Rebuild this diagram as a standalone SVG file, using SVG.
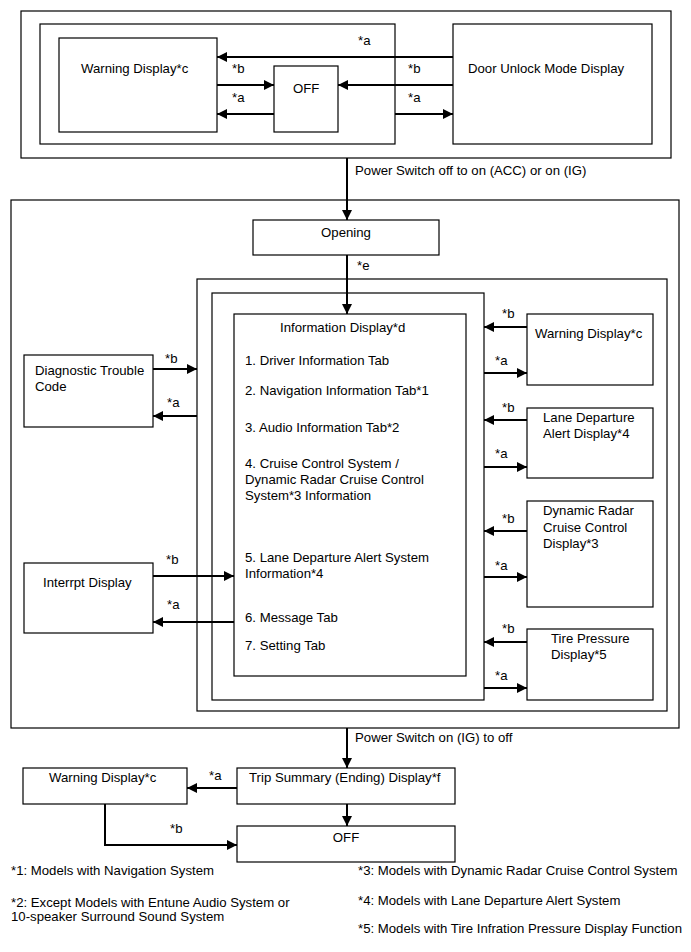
<svg xmlns="http://www.w3.org/2000/svg" width="691" height="952" viewBox="0 0 691 952">
<style>
.box{fill:#fff;stroke:#000;stroke-width:1.2}
.frame{fill:none;stroke:#000;stroke-width:1.2}
.t{font-family:"Liberation Sans",Arial,sans-serif;font-size:13.2px;fill:#000}
.m{text-anchor:middle}
.c{fill:none;stroke:#000;stroke-width:2}
.ca{fill:none;stroke:#000;stroke-width:2;marker-end:url(#ah)}
</style>
<defs>
<marker id="ah" markerWidth="10" markerHeight="10" refX="10" refY="5" orient="auto" markerUnits="userSpaceOnUse"><path d="M0,0 L10,5 L0,10 z" fill="#000"/></marker>
</defs>
<rect width="691" height="952" fill="#fff"/>

<!-- frames -->
<g id="frames">
<rect class="frame" x="21" y="11" width="650" height="147"/>
<rect class="frame" x="40" y="24" width="355" height="120"/>
<rect class="frame" x="11" y="200" width="668" height="528"/>
<rect class="frame" x="197" y="279" width="470" height="432"/>
<rect class="frame" x="212" y="293" width="272" height="407"/>
</g>

<!-- top section nodes -->
<g id="top-warning"><rect class="box" x="59" y="38" width="158" height="94"/><text class="t" x="81" y="73">Warning Display*c</text></g>
<g id="top-off"><rect class="box" x="274" y="66" width="64" height="66"/><text class="t" x="293" y="93">OFF</text></g>
<g id="door-unlock"><rect class="box" x="453" y="24" width="199" height="120"/><text class="t" x="468" y="73">Door Unlock Mode Display</text></g>

<!-- middle section nodes -->
<g id="opening"><rect class="box" x="253" y="220" width="186" height="35"/><text class="t m" x="346" y="237">Opening</text></g>
<g id="info-display"><rect class="box" x="234" y="314" width="232" height="362"/>
<text class="t" x="280" y="332">Information Display*d</text>
<text class="t" x="245" y="365">1. Driver Information Tab</text>
<text class="t" x="245" y="395">2. Navigation Information Tab*1</text>
<text class="t" x="245" y="432">3. Audio Information Tab*2</text>
<text class="t" x="245" y="468">4. Cruise Control System /</text>
<text class="t" x="245" y="484">Dynamic Radar Cruise Control</text>
<text class="t" x="245" y="500">System*3 Information</text>
<text class="t" x="245" y="562">5. Lane Departure Alert System</text>
<text class="t" x="245" y="578">Information*4</text>
<text class="t" x="245" y="622">6. Message Tab</text>
<text class="t" x="245" y="650">7. Setting Tab</text>
</g>
<g id="dtc"><rect class="box" x="24" y="355" width="129" height="72"/><text class="t" x="35" y="375">Diagnostic Trouble</text><text class="t" x="35" y="391">Code</text></g>
<g id="interrupt"><rect class="box" x="24" y="563" width="129" height="70"/><text class="t" x="43" y="587">Interrpt Display</text></g>
<g id="mid-warning"><rect class="box" x="527" y="314" width="126" height="71"/><text class="t" x="535" y="338">Warning Display*c</text></g>
<g id="lane-departure"><rect class="box" x="527" y="408" width="126" height="70"/><text class="t" x="543" y="422">Lane Departure</text><text class="t" x="543" y="438">Alert Display*4</text></g>
<g id="radar-cruise"><rect class="box" x="527" y="501" width="126" height="106"/><text class="t" x="543" y="515">Dynamic Radar</text><text class="t" x="543" y="532">Cruise Control</text><text class="t" x="543" y="548">Display*3</text></g>
<g id="tire-pressure"><rect class="box" x="527" y="629" width="126" height="71"/><text class="t" x="551" y="643">Tire Pressure</text><text class="t" x="551" y="659">Display*5</text></g>

<!-- bottom section nodes -->
<g id="bottom-warning"><rect class="box" x="23" y="768" width="164" height="36"/><text class="t" x="49" y="782">Warning Display*c</text></g>
<g id="trip-summary"><rect class="box" x="237" y="768" width="218" height="36"/><text class="t" x="249" y="782">Trip Summary (Ending) Display*f</text></g>
<g id="bottom-off"><rect class="box" x="237" y="826" width="218" height="36"/><text class="t m" x="346" y="842">OFF</text></g>

<!-- connectors -->
<g id="connectors">
<line class="ca" x1="453" y1="57" x2="217" y2="57"/>
<line class="ca" x1="217" y1="85" x2="274" y2="85"/>
<line class="ca" x1="274" y1="114" x2="217" y2="114"/>
<line class="ca" x1="453" y1="85" x2="338" y2="85"/>
<line class="ca" x1="395" y1="114" x2="453" y2="114"/>
<line class="ca" x1="347" y1="158" x2="347" y2="220"/>
<line class="ca" x1="347" y1="255" x2="347" y2="314"/>
<line class="ca" x1="153" y1="369" x2="197" y2="369"/>
<line class="ca" x1="197" y1="416" x2="153" y2="416"/>
<line class="ca" x1="153" y1="576" x2="234" y2="576"/>
<line class="ca" x1="234" y1="622" x2="153" y2="622"/>
<line class="ca" x1="527" y1="327" x2="484" y2="327"/>
<line class="ca" x1="484" y1="373" x2="527" y2="373"/>
<line class="ca" x1="527" y1="420" x2="484" y2="420"/>
<line class="ca" x1="484" y1="467" x2="527" y2="467"/>
<line class="ca" x1="527" y1="531" x2="484" y2="531"/>
<line class="ca" x1="484" y1="577" x2="527" y2="577"/>
<line class="ca" x1="527" y1="642" x2="484" y2="642"/>
<line class="ca" x1="484" y1="688" x2="527" y2="688"/>
<line class="ca" x1="347" y1="728" x2="347" y2="768"/>
<line class="ca" x1="237" y1="788" x2="187" y2="788"/>
<line class="ca" x1="347" y1="804" x2="347" y2="826"/>
<polyline class="ca" points="105,804 105,845 237,845"/>
<text class="t" x="358" y="45">*a</text>
<text class="t" x="232" y="73">*b</text>
<text class="t" x="232" y="102">*a</text>
<text class="t" x="408" y="73">*b</text>
<text class="t" x="408" y="102">*a</text>
<text class="t" x="355" y="175">Power Switch off to on (ACC) or on (IG)</text>
<text class="t" x="357" y="270">*e</text>
<text class="t" x="165" y="363">*b</text>
<text class="t" x="167" y="407">*a</text>
<text class="t" x="166" y="564">*b</text>
<text class="t" x="167" y="609">*a</text>
<text class="t" x="502" y="318">*b</text>
<text class="t" x="495" y="365">*a</text>
<text class="t" x="502" y="412">*b</text>
<text class="t" x="495" y="458">*a</text>
<text class="t" x="502" y="523">*b</text>
<text class="t" x="495" y="570">*a</text>
<text class="t" x="502" y="633">*b</text>
<text class="t" x="495" y="680">*a</text>
<text class="t" x="355" y="742">Power Switch on (IG) to off</text>
<text class="t" x="209" y="780">*a</text>
<text class="t" x="170" y="833">*b</text>
</g>

<!-- footnotes -->
<g id="footnotes">
<text class="t" x="11" y="875">*1: Models with Navigation System</text>
<text class="t" x="11" y="907">*2: Except Models with Entune Audio System or</text>
<text class="t" x="11" y="921">10-speaker Surround Sound System</text>
<text class="t" x="358" y="875">*3: Models with Dynamic Radar Cruise Control System</text>
<text class="t" x="358" y="905">*4: Models with Lane Departure Alert System</text>
<text class="t" x="358" y="933">*5: Models with Tire Infration Pressure Display Function</text>
</g>
</svg>
